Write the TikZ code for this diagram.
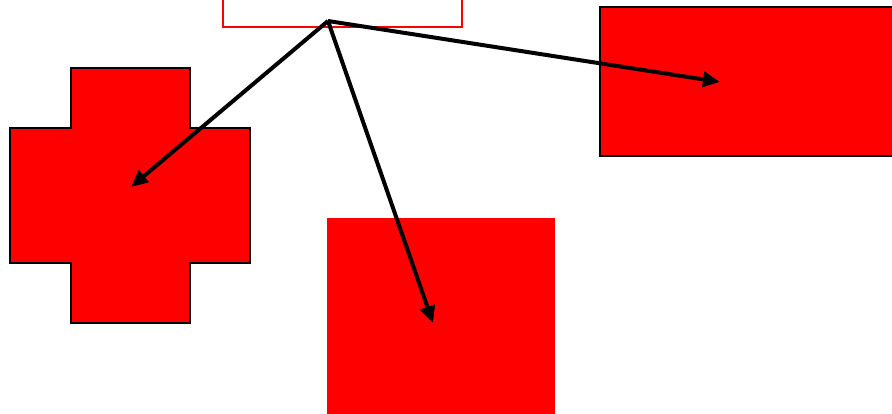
\documentclass[tikz,border=0pt]{standalone}
\usetikzlibrary{arrows.meta}
\definecolor{pure}{RGB}{255,0,0}
\tikzset{
  conn/.style={line width=4pt, -{Triangle[length=17pt,width=15pt]}},
  outlined/.style={draw=black, line width=2.6pt, fill=pure},
}
\begin{document}
\begin{tikzpicture}[x=1pt,y=-1pt]
\useasboundingbox (0,0) rectangle (892,414);
\clip (0,0) rectangle (892,414);
% top outline box
\draw[pure, line width=2.6pt] (223,-10) rectangle (462,27);
% cross
\draw[outlined] (71,68) -- (190,68) -- (190,128) -- (250,128) -- (250,263) -- (190,263) -- (190,323) -- (71,323) -- (71,263) -- (10,263) -- (10,128) -- (71,128) -- cycle;
% right box
\draw[outlined] (600,7) rectangle (900,156);
% bottom square
\fill[pure] (327,218) rectangle (555,420);
% connectors
\coordinate (src) at (328,21);
\coordinate (tcross) at (131,187);
\coordinate (tsquare) at (433,323);
\coordinate (tright) at (720,82);
\draw[conn] (src) -- (tcross);
\draw[conn] (src) -- (tsquare);
\draw[conn] (src) -- (tright);
\end{tikzpicture}
\end{document}
